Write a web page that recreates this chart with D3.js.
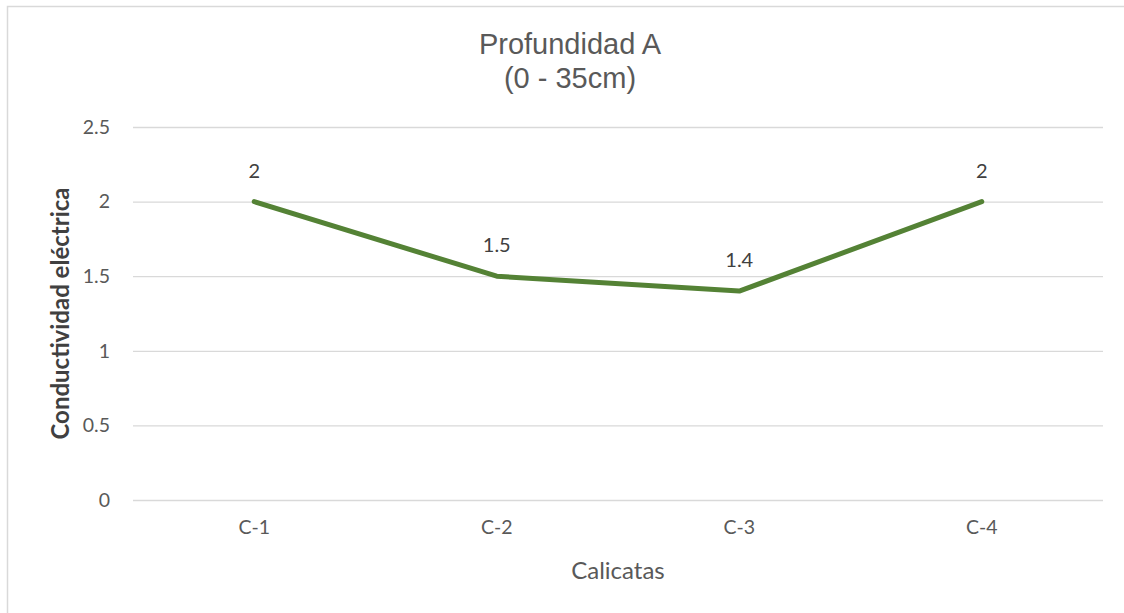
<!DOCTYPE html>
<html><head><meta charset="utf-8">
<script src="https://cdn.jsdelivr.net/npm/d3@7"></script>
<style>body{margin:0;background:#fff}svg{display:block}</style>
</head><body>
<script>
const categories = ["C-1","C-2","C-3","C-4"];
const values = [2, 1.5, 1.4, 2];
const yTicks = [0, 0.5, 1, 1.5, 2, 2.5];
const titleLines = ["Profundidad A", "(0 - 35cm)"];
const xTitle = "Calicatas";
const yTitle = "Conductividad eléctrica";

const W = 1124, H = 613;
const m = {left:133, right:1103, top:127, bottom:500};
const svg = d3.select("body").append("svg").attr("width",W).attr("height",H);
svg.append("rect").attr("x",7.5).attr("y",6.5).attr("width",W).attr("height",H)
  .attr("fill","#fff").attr("stroke","#d9d9d9").attr("stroke-width",1.5);

const x = d3.scaleBand().domain(categories).range([m.left,m.right]);
const y = d3.scaleLinear().domain([0,2.5]).range([m.bottom,m.top]);
const tickFont = "Lato, 'Open Sans', sans-serif";

const gy = svg.append("g").attr("transform",`translate(${m.left},0)`)
  .call(d3.axisLeft(y).tickValues(yTicks).tickSize(-(m.right-m.left)).tickPadding(23).tickFormat(d=>String(d)));
gy.select(".domain").remove();
gy.selectAll(".tick line").attr("stroke","#d9d9d9").attr("stroke-width",1.3);
gy.selectAll(".tick text").attr("fill","#595959").style("font-family",tickFont).style("font-size","19.5px");

const gx = svg.append("g").attr("transform",`translate(0,${m.bottom})`)
  .call(d3.axisBottom(x).tickSize(0).tickPadding(20));
gx.select(".domain").remove();
gx.selectAll(".tick text").attr("fill","#595959").style("font-family",tickFont).style("font-size","19.5px");

const line = d3.line().x((d,i)=>x(categories[i])+x.bandwidth()/2).y(d=>y(d));
svg.append("path").datum(values).attr("d",line).attr("fill","none")
  .attr("stroke","#548235").attr("stroke-width",5).attr("stroke-linejoin","round").attr("stroke-linecap","round");

svg.append("g").selectAll("text").data(values).join("text")
  .attr("x",(d,i)=>x(categories[i])+x.bandwidth()/2)
  .attr("y",d=>y(d)-24)
  .attr("text-anchor","middle").attr("fill","#404040")
  .style("font-family",tickFont).style("font-size","20px")
  .text(d=>String(d));

const t = svg.append("text").attr("text-anchor","middle").attr("fill","#595959")
  .style("font-family","'Liberation Sans', Arial, sans-serif").style("font-size","29px");
titleLines.forEach((l,i)=>t.append("tspan").attr("x",570).attr("y",54+i*34).text(l));

svg.append("text").attr("x",(m.left+m.right)/2).attr("y",579).attr("text-anchor","middle")
  .attr("fill","#595959").style("font-family",tickFont).style("font-size","24px").text(xTitle);

svg.append("text").attr("transform",`translate(69,${(m.top+m.bottom)/2}) rotate(-90)`)
  .attr("text-anchor","middle").attr("fill","#404040").style("font-weight","bold")
  .style("font-family",tickFont).style("font-size","24px").text(yTitle);
</script>
</body></html>
